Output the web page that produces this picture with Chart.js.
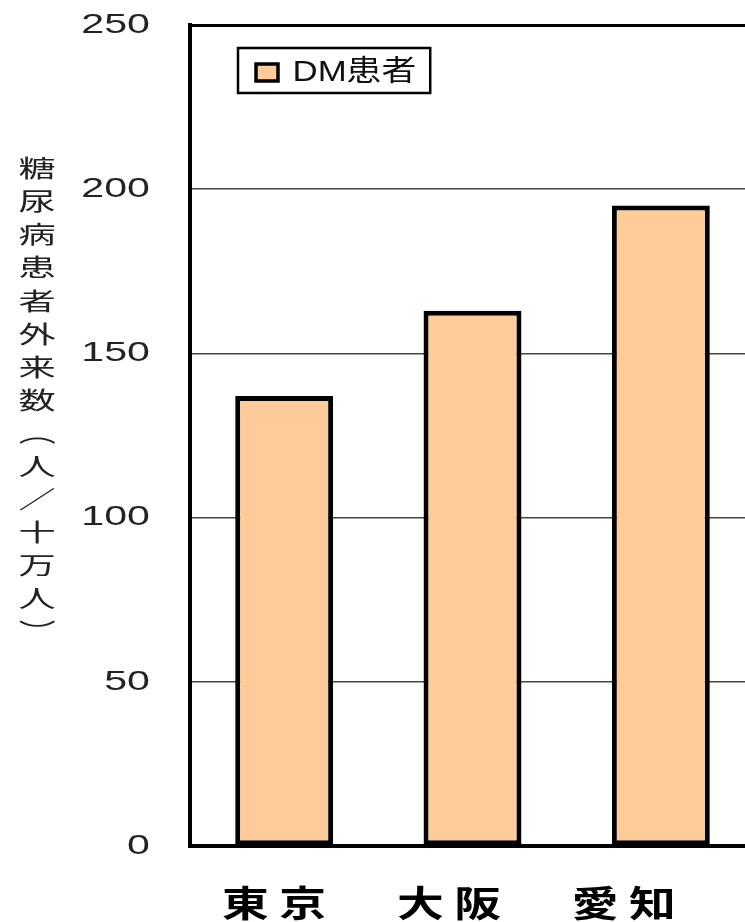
<!DOCTYPE html>
<html>
<head>
<meta charset="utf-8">
<script src="https://cdn.jsdelivr.net/npm/chart.js@4.4.1/dist/chart.umd.min.js"></script>
<style>
html, body { margin: 0; padding: 0; background: #fff; overflow: hidden; width: 745px; height: 922px; }
#wrap { position: absolute; left: 0; top: 0; width: 760px; height: 922px; }
</style>
</head>
<body>
<div id="wrap"><canvas id="c"></canvas></div>
<script>
// ---- data ----
const categories = ['東京', '大阪', '愛知'];
const dmValues = [137, 163, 195];
const seriesLabel = 'DM患者';
const yTickValues = [0, 50, 100, 150, 200, 250];
const yTitle = '糖尿病患者外来数（人／十万人）';

// ---- styling ----
const CJK = '"Noto Sans CJK JP", sans-serif';
const LAT = '"Liberation Sans", Arial, "Noto Sans CJK JP", sans-serif';
const Y_SX = 1.47, X_SX = 1.3, X_SP = 8, LEG_SX = 1.2, TITLE_SX = 1.55;

function stretchText(ctx, sx, spacing, fn) {
  const had = Object.prototype.hasOwnProperty.call(ctx, 'fillText');
  const prev = ctx.fillText;
  const prevLS = ctx.letterSpacing;
  ctx.letterSpacing = spacing + 'px';
  ctx.fillText = function (t, x, y, w) {
    this.save();
    this.scale(sx, 1);
    if (w === undefined) prev.call(this, t, x / sx, y);
    else prev.call(this, t, x / sx, y, w / sx);
    this.restore();
  };
  try { fn(); } finally {
    if (had) ctx.fillText = prev; else delete ctx.fillText;
    ctx.letterSpacing = prevLS;
  }
}
function wrapOnce(obj, name, sx, sp) {
  if (!obj || obj['__w_' + name]) return;
  const orig = obj[name];
  obj[name] = function (...args) {
    stretchText(this.ctx, sx, sp, () => orig.apply(this, args));
  };
  obj['__w_' + name] = true;
}

const tweaks = {
  id: 'tweaks',
  afterLayout(chart) {
    const ca = chart.chartArea;
    const lg = chart.legend;
    if (lg) {
      lg.left = ca.left + 56;
      lg.top = ca.top + 23;
      wrapOnce(lg, 'draw', LEG_SX, 0);
    }
    wrapOnce(chart.scales.y, 'drawLabels', Y_SX, 0);
    wrapOnce(chart.scales.x2, 'drawLabels', X_SX, X_SP);
  },
  afterDraw(chart) {
    const ctx = chart.ctx;
    const ca = chart.chartArea;
    const lg = chart.legend;
    // legend frame
    ctx.save();
    ctx.font = '29px ' + LAT;
    const tw = ctx.measureText(seriesLabel).width * LEG_SX;
    const textX = lg.left + 10 + 22 + 14.5;
    const fx = lg.left - 8;
    ctx.lineWidth = 2.5;
    ctx.strokeStyle = '#000';
    ctx.strokeRect(fx, lg.top, textX + tw + 14 - fx, 45);
    ctx.restore();
    // vertical y-axis title
    ctx.save();
    ctx.font = '24px ' + CJK;
    ctx.fillStyle = '#222';
    ctx.textAlign = 'center';
    ctx.textBaseline = 'middle';
    const chars = Array.from(yTitle);
    const pitch = 33.1;
    const y0 = ca.top + 143;
    chars.forEach((ch, i) => {
      ctx.save();
      ctx.translate(37, y0 + i * pitch);
      ctx.scale(TITLE_SX, 1);
      if (ch === '（' || ch === '）') ctx.rotate(Math.PI / 2);
      ctx.fillText(ch, 0, 0);
      ctx.restore();
    });
    ctx.restore();
  }
};

new Chart(document.getElementById('c'), {
  type: 'bar',
  data: {
    labels: categories,
    datasets: [{
      label: seriesLabel,
      data: dmValues,
      backgroundColor: '#FFCC99',
      borderColor: '#000',
      borderWidth: 5,
      borderSkipped: false,
      barPercentage: 0.52,
      categoryPercentage: 1.0
    }]
  },
  options: {
    responsive: true,
    maintainAspectRatio: false,
    animation: false,
    layout: { padding: { top: 25, right: 5, left: 0, bottom: 0 } },
    plugins: {
      tooltip: { enabled: false },
      legend: {
        position: 'chartArea',
        align: 'start',
        labels: {
          boxWidth: 22,
          boxHeight: 17,
          padding: 10,
          color: '#111',
          font: { family: LAT, size: 29 },
          generateLabels: (chart) => Chart.defaults.plugins.legend.labels.generateLabels(chart)
            .map(l => Object.assign(l, { lineWidth: 3.5, strokeStyle: '#000' }))
        }
      }
    },
    scales: {
      x: {
        type: 'category',
        position: 'bottom',
        weight: 0,
        grid: { display: false, drawTicks: false },
        ticks: { display: false },
        border: { display: true, color: '#000', width: 4 },
        afterFit: (s) => { s.height = 0; s.paddingLeft = 0; s.paddingRight = 0; }
      },
      x2: {
        type: 'linear',
        position: 'bottom',
        axis: 'x',
        weight: 1,
        offset: false,
        bounds: 'data',
        grace: 0,
        min: 0.49,
        max: 3.72,
        afterBuildTicks: (s) => { s.ticks = categories.map((c, i) => ({ value: i + 1 })); },
        afterFit: (s) => { s.height = 76; s.paddingLeft = 0; s.paddingRight = 0; },
        grid: { display: false, drawTicks: false, offset: false },
        border: { display: false },
        ticks: {
          autoSkip: false,
          maxRotation: 0,
          padding: 36,
          color: '#000',
          font: { family: CJK, size: 36, weight: 'bold' },
          callback: (v) => categories[v - 1] ?? ''
        }
      },
      y: {
        min: 0,
        max: 250,
        afterBuildTicks: (s) => { s.ticks = yTickValues.map(v => ({ value: v })); },
        afterFit: (s) => { s.width = 190; s.paddingTop = 0; s.paddingBottom = 0; },
        ticks: { padding: 40, color: '#222', font: { family: LAT, size: 28 } },
        grid: {
          drawTicks: false,
          color: (c) => (c.tick && c.tick.value === 250 ? '#000' : '#444'),
          lineWidth: (c) => (c.tick && c.tick.value === 250 ? 3 : 1.5)
        },
        border: { display: true, color: '#000', width: 4 }
      }
    }
  },
  plugins: [tweaks]
});
</script>
</body>
</html>
